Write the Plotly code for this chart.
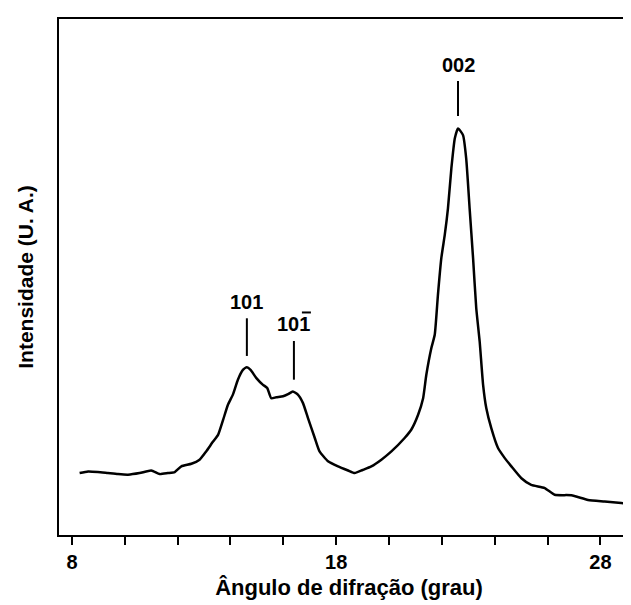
import plotly.graph_objects as go

# Diffraction angle (2θ, degrees) and intensity (arbitrary units)
angle = [8.29, 8.61, 8.98, 9.36, 9.74, 10.12, 10.56, 11.00, 11.32, 11.63, 11.89, 12.14, 12.52,
         12.83, 13.08, 13.34, 13.53, 13.72, 13.90, 14.09, 14.28, 14.47, 14.62, 14.76, 14.98,
         15.23, 15.39, 15.54, 15.73, 15.99, 16.18, 16.36, 16.55, 16.74, 16.93, 17.19, 17.37,
         17.69, 18.07, 18.45, 18.70, 19.00, 19.33, 19.71, 20.09, 20.59, 20.84, 21.10, 21.29,
         21.41, 21.60, 21.73, 21.85, 21.98, 22.11, 22.23, 22.36, 22.49, 22.61, 22.80, 22.92,
         23.05, 23.18, 23.30, 23.43, 23.56, 23.68, 23.87, 24.12, 24.38, 24.63, 25.01, 25.38,
         25.89, 26.27, 26.90, 27.53, 28.16, 28.79, 29.46]
intensity = [12.0, 12.3, 12.2, 12.0, 11.8, 11.7, 12.0, 12.5, 11.8, 12.0, 12.2, 13.3, 13.8,
             14.6, 16.2, 18.1, 19.4, 22.3, 25.2, 27.2, 30.1, 32.0, 32.5, 32.0, 30.4,
             29.1, 28.5, 26.5, 26.7, 26.9, 27.3, 27.8, 27.2, 25.6, 22.7, 18.8, 16.2,
             14.3, 13.3, 12.5, 12.0, 12.6, 13.3, 14.6, 16.2, 18.8, 20.4, 23.3, 26.5,
             31.0, 36.2, 38.8, 46.5, 53.7, 58.2, 63.3, 71.1, 76.9, 78.8, 77.5, 73.0,
             63.3, 53.7, 44.0, 37.5, 29.1, 24.6, 20.7, 16.9, 14.9, 13.3, 11.0, 9.7,
             9.1, 7.8, 7.7, 6.8, 6.5, 6.2, 5.9]

# Peak labels (Miller indices); the second one carries an overbar on its last digit
peak_labels = ["101", "101", "002"]
peak_bar = [False, True, False]
peak_angle = [14.62, 16.40, 22.61]
peak_line_lo = [34.7, 30.1, 81.2]
peak_line_hi = [42.0, 37.6, 88.0]
peak_text_y = [45.2, 40.8, 91.0]

tick_vals = [8, 10, 12, 14, 16, 18, 20, 22, 24, 26, 28]
tick_text = ["8", "", "", "", "", "18", "", "", "", "", "28"]

FONT = "Liberation Sans, Arial, sans-serif"

fig = go.Figure()
fig.add_trace(go.Scatter(x=angle, y=intensity, mode="lines",
                         line=dict(color="black", width=2.5, shape="spline", smoothing=0.5),
                         showlegend=False, hoverinfo="skip"))

for lab, bar, xa, lo, hi, ty in zip(peak_labels, peak_bar, peak_angle, peak_line_lo,
                                     peak_line_hi, peak_text_y):
    fig.add_shape(type="line", x0=xa, x1=xa, y0=lo, y1=hi, xref="x", yref="y",
                  line=dict(color="black", width=2))
    fig.add_annotation(x=xa, y=ty, text="<b>" + lab + "</b>", showarrow=False,
                       xanchor="center", yanchor="middle",
                       font=dict(family=FONT, size=20, color="black"))
    if bar:
        fig.add_shape(type="line", xref="x", yref="y",
                      xsizemode="pixel", xanchor=xa, x0=8, x1=17,
                      ysizemode="pixel", yanchor=ty, y0=12, y1=12,
                      line=dict(color="black", width=2))

fig.update_layout(
    width=631, height=605,
    margin=dict(l=51, r=0, t=11, b=78),
    paper_bgcolor="white", plot_bgcolor="white",
    xaxis=dict(range=[7.51, 29.46], tickvals=tick_vals,
               ticktext=[("<b>" + t + "</b>") if t else "" for t in tick_text],
               ticks="outside", ticklen=8, tickwidth=2, tickcolor="black",
               showline=True, linecolor="black", linewidth=2, mirror=True,
               showgrid=False, zeroline=False, ticklabelstandoff=0,
               tickfont=dict(family=FONT, size=20, color="black"),
               title=dict(text="<b>Ângulo de difração (grau)</b>",
                          font=dict(family=FONT, size=22, color="black"), standoff=8)),
    yaxis=dict(range=[0, 100], showticklabels=False, ticks="",
               showline=True, linecolor="black", linewidth=2,
               showgrid=False, zeroline=False,
               title=dict(text="<b>Intensidade (U. A.)</b>",
                          font=dict(family=FONT, size=21, color="black"), standoff=18)),
)

fig.write_html("out.html")
